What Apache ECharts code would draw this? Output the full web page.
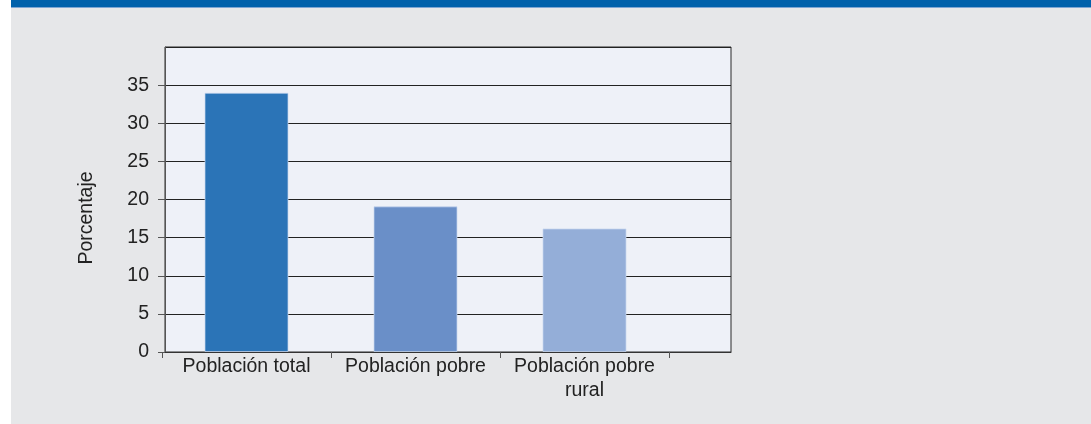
<!DOCTYPE html>
<html>
<head>
    <meta charset="utf-8">
    <title>Porcentaje</title>
    <script src="https://cdn.jsdelivr.net/npm/echarts@6/dist/echarts.min.js"></script>
    <style type="text/css">
        html, body { margin: 0; padding: 0; background: #fff; }
        #main { width: 1091px; height: 424px; }
    </style>
</head>
<body>
    <div id="main"></div>
    <script type="text/javascript">
        // datos del gráfico
        var categorias = ['Población total', 'Población pobre', 'Población pobre\nrural'];
        var valores = [34.0, 19.1, 16.2];
        var colores = ['#2b74b7', '#6a8fc8', '#94aed8'];
        var ejeY = { min: 0, max: 40, interval: 5 };

        var fuente = '"Liberation Sans", Arial, Helvetica, sans-serif';

        var myChart = echarts.init(document.getElementById('main'));
        var option = {
            animation: false,
            textStyle: { fontFamily: fuente },
            graphic: [
                // fondo gris y franja azul superior
                { type: 'rect', z: -10, shape: { x: 11, y: 0, width: 1080, height: 424 }, style: { fill: '#e6e7e9' } },
                { type: 'rect', z: -9, shape: { x: 11, y: 0, width: 1080, height: 7 }, style: { fill: '#0061ab' } },
                { type: 'rect', z: -9, shape: { x: 11, y: 7, width: 1080, height: 1 }, style: { fill: '#7ea6d3' } }
            ],
            grid: [
                { left: 165, right: 360, top: 47, bottom: 72, show: true, backgroundColor: '#eef1f8', borderColor: '#2a2a2a', borderWidth: 1 },
                { left: 162, width: 507, top: 47, bottom: 72 }
            ],
            xAxis: [
                {
                    gridIndex: 0, type: 'category', data: [''],
                    axisLine: { lineStyle: { color: '#333', width: 1 } },
                    axisTick: { show: false }, axisLabel: { show: false }, splitLine: { show: false }
                },
                {
                    gridIndex: 1, type: 'category', data: categorias,
                    axisLine: { show: false },
                    axisTick: { show: true, length: 6, lineStyle: { color: '#555' } },
                    axisLabel: { color: '#222', fontSize: 19.5, lineHeight: 23.5, margin: 3, interval: 0, fontFamily: fuente }
                }
            ],
            yAxis: [
                {
                    gridIndex: 0, type: 'value', min: ejeY.min, max: ejeY.max, interval: ejeY.interval,
                    name: 'Porcentaje', nameLocation: 'middle', nameGap: 68, nameRotate: 90,
                    nameTextStyle: { color: '#222', fontSize: 19.5, fontFamily: fuente, padding: [0, 37, 0, 0] },
                    axisLine: { show: true, lineStyle: { color: '#555' } },
                    axisTick: { show: true, length: 7, lineStyle: { color: '#555' } },
                    axisLabel: { color: '#222', fontSize: 19.5, margin: 16, showMaxLabel: false, fontFamily: fuente },
                    splitLine: { show: true, lineStyle: { color: '#222', width: 1 } }
                },
                {
                    gridIndex: 1, type: 'value', min: ejeY.min, max: ejeY.max, interval: ejeY.interval,
                    show: false, splitLine: { show: false }
                }
            ],
            series: [
                {
                    type: 'bar', xAxisIndex: 1, yAxisIndex: 1, barWidth: 84,
                    data: valores.map(function (v, i) {
                        return { value: v, itemStyle: { color: colores[i], borderColor: 'rgba(200,215,240,0.7)', borderWidth: 1 } };
                    })
                }
            ]
        };
        myChart.setOption(option);
    </script>
</body>
</html>
